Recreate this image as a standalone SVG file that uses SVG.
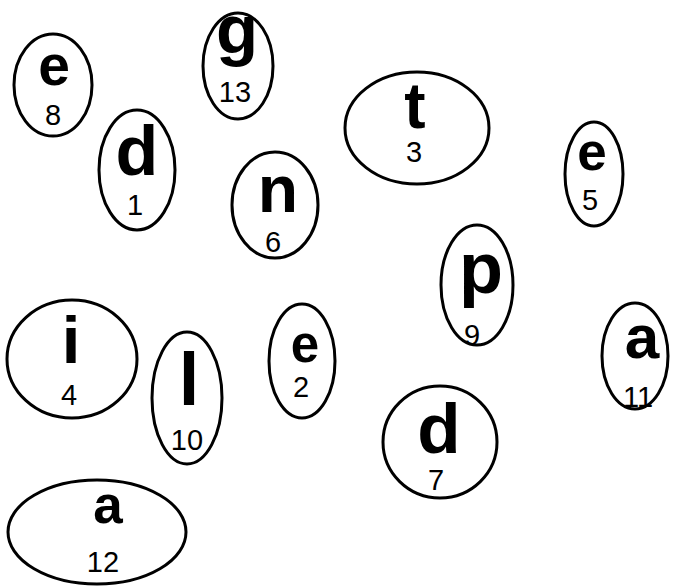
<svg xmlns="http://www.w3.org/2000/svg" width="681" height="587" viewBox="0 0 681 587">
<style>
ellipse{fill:#fff;stroke:#000;stroke-width:3}
.l{font-family:"Liberation Sans",Arial,sans-serif;font-weight:bold;text-anchor:middle;fill:#000}
.n{font-family:"Liberation Sans",Arial,sans-serif;font-size:29px;text-anchor:middle;fill:#000}
</style>
<rect width="681" height="587" fill="#fff"/>
<g id="node-e8"><ellipse cx="53" cy="85" rx="39" ry="51"/><text class="l" x="54" y="85" font-size="57">e</text><text class="n" x="53" y="125">8</text></g>
<g id="node-g13"><ellipse cx="238" cy="66" rx="35" ry="53"/><text class="l" x="237" y="53" font-size="69">g</text><text class="n" x="235" y="102">13</text></g>
<g id="node-d1"><ellipse cx="137" cy="170" rx="38" ry="60"/><text class="l" x="137" y="175" font-size="70">d</text><text class="n" x="135" y="215">1</text></g>
<g id="node-n6"><ellipse cx="275" cy="205" rx="43" ry="53"/><text class="l" x="278" y="212" font-size="66">n</text><text class="n" x="273" y="252">6</text></g>
<g id="node-t3"><ellipse cx="417" cy="128" rx="72" ry="56"/><text class="l" x="415" y="128" font-size="64">t</text><text class="n" x="414" y="162">3</text></g>
<g id="node-e5"><ellipse cx="594" cy="174" rx="29" ry="52"/><text class="l" x="592" y="170" font-size="53">e</text><text class="n" x="590" y="210">5</text></g>
<g id="node-p9"><ellipse cx="477" cy="285" rx="36" ry="60"/><text class="l" x="481" y="293" font-size="72">p</text><text class="n" x="472" y="345">9</text></g>
<g id="node-a11"><ellipse cx="635" cy="356" rx="33" ry="53"/><text class="l" x="642" y="358" font-size="62">a</text><text class="n" x="638" y="407">11</text></g>
<g id="node-i4"><ellipse cx="72" cy="359" rx="65" ry="59"/><text class="l" x="71" y="363" font-size="67">i</text><text class="n" x="69" y="405">4</text></g>
<g id="node-l10"><ellipse cx="187" cy="398" rx="35" ry="66"/><text class="l" x="189" y="405" font-size="74">l</text><text class="n" x="187" y="450">10</text></g>
<g id="node-e2"><ellipse cx="302" cy="361" rx="33" ry="57"/><text class="l" x="305" y="362" font-size="51">e</text><text class="n" x="301" y="397">2</text></g>
<g id="node-a12"><ellipse cx="97" cy="532" rx="89" ry="52"/><text class="l" x="108" y="523" font-size="53">a</text><text class="n" x="103" y="572">12</text></g>
<g id="node-d7"><ellipse cx="440" cy="442" rx="57" ry="56"/><text class="l" x="439" y="453" font-size="71">d</text><text class="n" x="436" y="490">7</text></g>
<g id="connectors"/>
</svg>
